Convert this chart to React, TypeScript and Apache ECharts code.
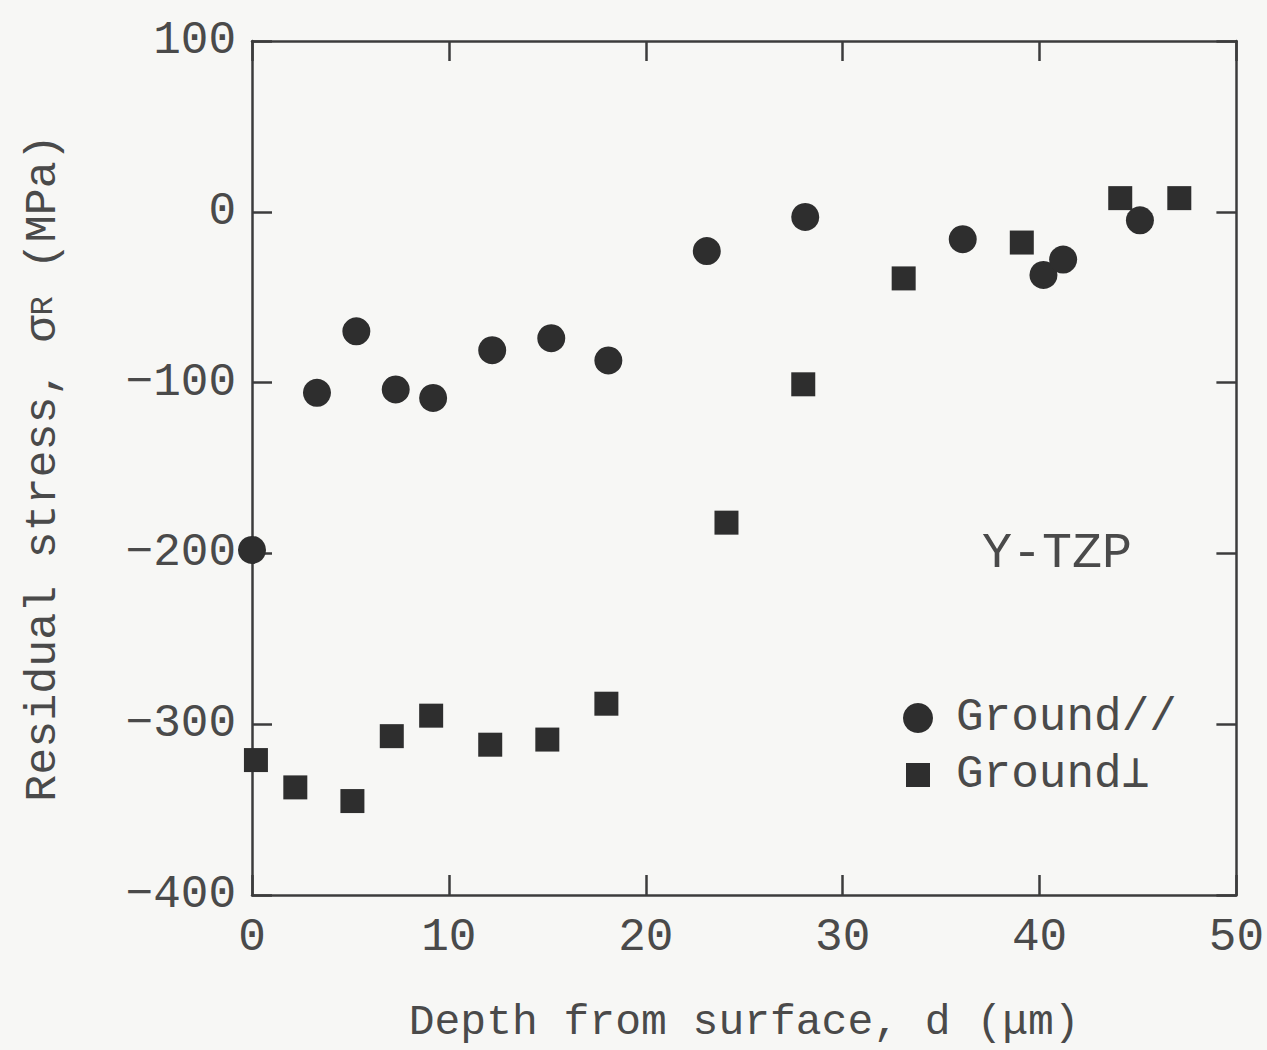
import React, { useEffect, useRef } from "react";
import * as echarts from "echarts";

const xTicks = [0, 10, 20, 30, 40, 50];
const yTicks = [100, 0, -100, -200, -300, -400];

const parallelX = [0, 3.3, 5.3, 7.3, 9.2, 12.2, 15.2, 18.1, 23.1, 28.1, 36.1, 40.2, 41.2, 45.1];
const parallelY = [-198, -106, -70, -104, -109, -81, -74, -87, -23, -3, -16, -37, -28, -5];

const perpX = [0.2, 2.2, 5.1, 7.1, 9.1, 12.1, 15.0, 18.0, 24.1, 28.0, 33.1, 39.1, 44.1, 47.1];
const perpY = [-321, -337, -345, -307, -295, -312, -309, -288, -182, -101, -39, -18, 8, 8];

const seriesNames = ["Ground//", "Ground⊥"];

const FONT = "'Liberation Mono', monospace";
const TXT = "#4a4a4a";
const AX = "#3c3c3c";
const MK = "#2e2e2e";

export default function App() {
  const ref = useRef<HTMLDivElement>(null);
  useEffect(() => {
    document.body.style.margin = "0";
    if (!ref.current) return;
    const chart = echarts.init(ref.current, undefined, { renderer: "svg" });
    const pairs = (xs: number[], ys: number[]) => xs.map((x, i) => [x, ys[i]]);
    const axisCommon = {
      axisLine: { show: true, onZero: false, lineStyle: { color: AX, width: 2.5 } },
      axisTick: { show: true, inside: true, length: 20, lineStyle: { color: AX, width: 2.5 } },
      splitLine: { show: false },
    };
    chart.setOption({
      animation: false,
      backgroundColor: "#f7f7f5",
      grid: { left: 252, right: 22, top: 41, bottom: 155, containLabel: false },
      xAxis: [
        {
          type: "value",
          min: 0,
          max: 50,
          interval: 10,
          position: "bottom",
          ...axisCommon,
          axisLabel: {
            color: TXT,
            fontFamily: FONT,
            fontSize: 46,
            margin: 20,
            formatter: (v: number) => (xTicks.includes(v) ? String(v) : ""),
          },
          name: "Depth from surface, d (μm)",
          nameLocation: "middle",
          nameGap: 106,
          nameTextStyle: { color: TXT, fontFamily: FONT, fontSize: 43 },
        },
        {
          type: "value",
          min: 0,
          max: 50,
          interval: 10,
          position: "top",
          ...axisCommon,
          axisLabel: { show: false },
        },
      ],
      yAxis: [
        {
          type: "value",
          min: -400,
          max: 100,
          interval: 100,
          position: "left",
          ...axisCommon,
          axisLabel: {
            color: TXT,
            fontFamily: FONT,
            fontSize: 46,
            margin: 16,
            formatter: (v: number) => (yTicks.includes(v) ? String(v).replace("-", "−") : ""),
          },
          name: "Residual stress, σ{sub|R} (MPa)",
          nameLocation: "middle",
          nameGap: 186,
          nameTextStyle: {
            color: TXT,
            fontFamily: FONT,
            fontSize: 45,
            rich: { sub: { fontFamily: FONT, fontSize: 32, color: TXT } },
          },
        },
        {
          type: "value",
          min: -400,
          max: 100,
          interval: 100,
          position: "right",
          ...axisCommon,
          axisLabel: { show: false },
        },
      ],
      legend: { show: false, data: seriesNames },
      graphic: [
        {
          type: "text",
          left: 982,
          top: 528,
          style: { text: "Y-TZP", fill: TXT, font: "50px 'Liberation Mono', monospace" },
        },
        { type: "circle", shape: { cx: 918, cy: 718, r: 15 }, style: { fill: MK } },
        { type: "rect", shape: { x: 906, y: 763, width: 24, height: 24 }, style: { fill: MK } },
        {
          type: "text",
          x: 956,
          y: 718,
          style: { text: seriesNames[0], fill: TXT, font: "46px 'Liberation Mono', monospace", verticalAlign: "middle" },
        },
        {
          type: "text",
          x: 956,
          y: 775,
          style: { text: seriesNames[1], fill: TXT, font: "46px 'Liberation Mono', monospace", verticalAlign: "middle" },
        },
      ],
      series: [
        {
          name: seriesNames[0],
          type: "scatter",
          symbol: "circle",
          symbolSize: 28,
          itemStyle: { color: MK, opacity: 1 },
          data: pairs(parallelX, parallelY),
        },
        {
          name: seriesNames[1],
          type: "scatter",
          symbol: "rect",
          symbolSize: 24,
          itemStyle: { color: MK, opacity: 1 },
          data: pairs(perpX, perpY),
        },
      ],
    });
    return () => chart.dispose();
  }, []);
  return <div ref={ref} style={{ width: 1267, height: 1050 }} />;
}
